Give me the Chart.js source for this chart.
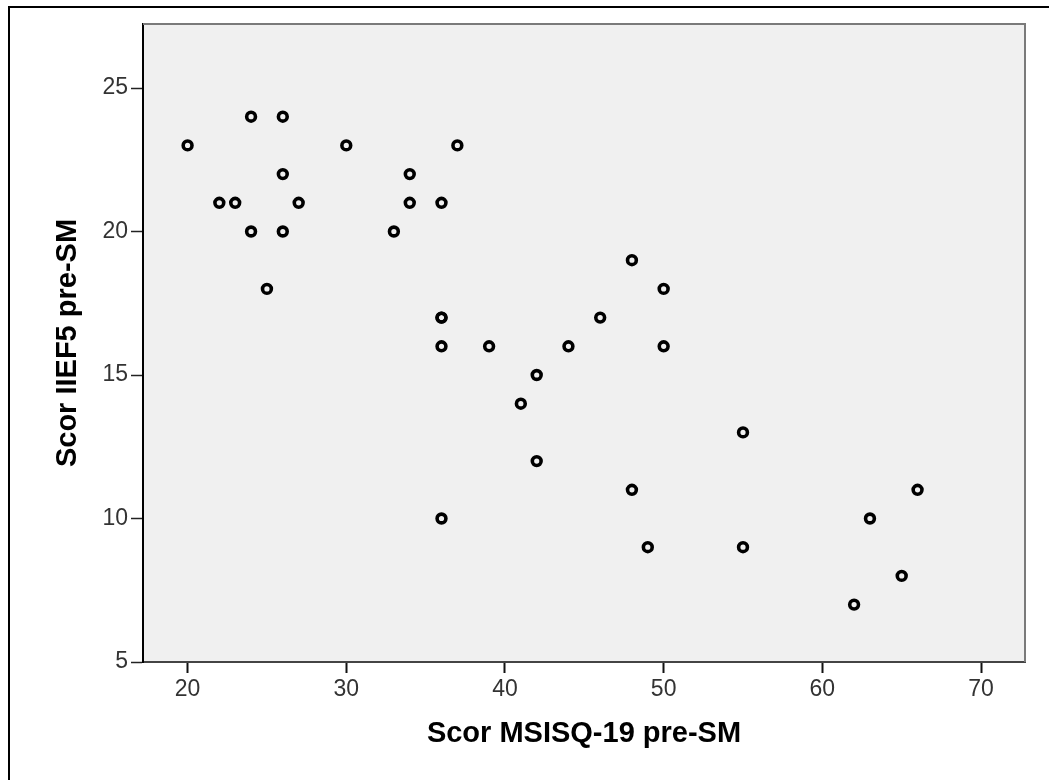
<!DOCTYPE html>
<html>
<head>
<meta charset="utf-8">
<script src="https://cdn.jsdelivr.net/npm/chart.js@4"></script>
<style>
  html, body { margin: 0; padding: 0; background: #fff; }
  #wrap { width: 1049px; height: 780px; }
</style>
</head>
<body>
<div id="wrap"><canvas id="scatter"></canvas></div>
<script>
// Data
const msisqScores = [20, 22, 23, 24, 26, 26, 24, 26, 27, 25, 30, 33, 34, 34, 36, 37,
  36, 36, 36, 39, 36, 42, 41, 42, 44, 46, 48, 50, 50, 48, 49, 55, 55, 62, 63, 65, 66];
const iiefScores = [23, 21, 21, 24, 24, 22, 20, 20, 21, 18, 23, 20, 22, 21, 21, 23,
  17, 17, 16, 16, 10, 15, 14, 12, 16, 17, 19, 18, 16, 11, 9, 13, 9, 7, 10, 8, 11];
const xTicks = [20, 30, 40, 50, 60, 70];
const yTicks = [5, 10, 15, 20, 25];
const xLabel = "Scor MSISQ-19 pre-SM";
const yLabel = "Scor IIEF5 pre-SM";

const points = msisqScores.map((x, i) => ({ x: x, y: iiefScores[i] }));
const fontFamily = "'Liberation Sans', Arial, sans-serif";

// gray plot background + frame, outer border of the figure
const framePlugin = {
  id: "frame",
  beforeDraw(chart) {
    const { ctx, chartArea: a } = chart;
    ctx.save();
    ctx.fillStyle = "#f0f0f0";
    ctx.fillRect(a.left, a.top, a.right - a.left, a.bottom - a.top);
    ctx.restore();
  },
  afterDraw(chart) {
    const { ctx, chartArea: a } = chart;
    ctx.save();
    ctx.strokeStyle = "#7a7a7a";
    ctx.lineWidth = 2;
    ctx.beginPath();
    ctx.moveTo(a.left, a.top);
    ctx.lineTo(a.right, a.top);
    ctx.lineTo(a.right, a.bottom);
    ctx.stroke();

    ctx.strokeStyle = "#000";
    ctx.lineWidth = 2;
    ctx.beginPath();
    ctx.moveTo(9, chart.height);
    ctx.lineTo(9, 7);
    ctx.lineTo(chart.width, 7);
    ctx.stroke();
    ctx.restore();
  },
};

const ctx = document.getElementById("scatter").getContext("2d");
new Chart(ctx, {
  type: "scatter",
  data: {
    datasets: [
      {
        data: points,
        pointStyle: "circle",
        pointRadius: 4.4,
        pointHoverRadius: 4.4,
        borderWidth: 3.6,
        borderColor: "#000",
        backgroundColor: "rgba(0,0,0,0)",
      },
    ],
  },
  options: {
    responsive: true,
    maintainAspectRatio: false,
    animation: false,
    layout: { padding: { left: 0, top: 24, right: 24, bottom: 0 } },
    plugins: {
      legend: { display: false },
      tooltip: { enabled: false },
    },
    scales: {
      x: {
        type: "linear",
        min: 17.19,
        max: 72.77,
        afterBuildTicks: (scale) => {
          scale.ticks = xTicks.map((v) => ({ value: v }));
        },
        afterFit: (scale) => {
          scale.height = 118;
        },
        border: { display: true, color: "#444", width: 2 },
        grid: {
          drawOnChartArea: false,
          drawTicks: true,
          tickLength: 11,
          tickColor: "#111",
          tickWidth: 2,
        },
        ticks: {
          padding: 3,
          color: "#333",
          font: { family: fontFamily, size: 23 },
          maxRotation: 0,
        },
        title: {
          display: true,
          text: xLabel,
          color: "#000",
          font: { family: fontFamily, size: 29, weight: "bold" },
          padding: { top: 0, bottom: 29 },
        },
      },
      y: {
        type: "linear",
        min: 5,
        max: 27.23,
        afterBuildTicks: (scale) => {
          scale.ticks = yTicks.map((v) => ({ value: v }));
        },
        afterFit: (scale) => {
          scale.width = 143;
        },
        border: { display: true, color: "#000", width: 2 },
        grid: {
          drawOnChartArea: false,
          drawTicks: true,
          tickLength: 12,
          tickColor: "#222",
          tickWidth: 1.5,
        },
        ticks: {
          padding: 3,
          color: "#333",
          font: { family: fontFamily, size: 23 },
        },
        title: {
          display: true,
          text: yLabel,
          color: "#000",
          font: { family: fontFamily, size: 29, weight: "bold" },
          padding: { top: 51, bottom: 0 },
        },
      },
    },
  },
  plugins: [framePlugin],
});
</script>
</body>
</html>
